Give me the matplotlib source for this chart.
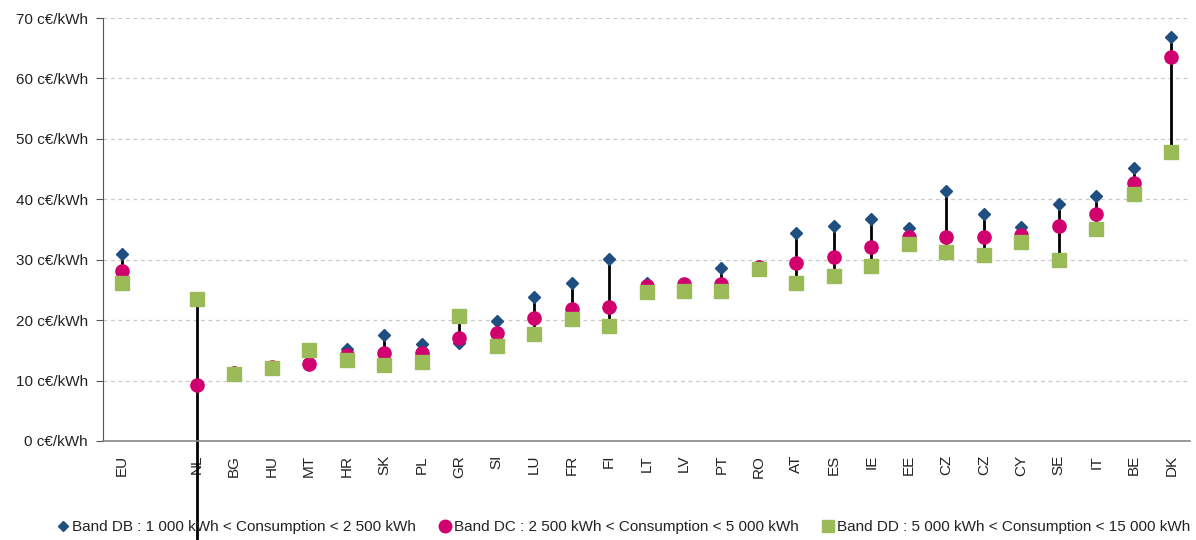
import numpy as np
import matplotlib
matplotlib.use('Agg')
import matplotlib.pyplot as plt
from matplotlib.lines import Line2D

plt.rcParams['font.family'] = ['Liberation Sans', 'DejaVu Sans']

countries = ['EU', '', 'NL', 'BG', 'HU', 'MT', 'HR', 'SK', 'PL', 'GR', 'SI', 'LU', 'FR', 'FI',
             'LT', 'LV', 'PT', 'RO', 'AT', 'ES', 'IE', 'EE', 'CZ', 'CZ', 'CY', 'SE', 'IT', 'BE', 'DK']

# c€/kWh, nan for the empty slot
band_db = [31.0, np.nan, -18.0, 11.4, 12.3, 13.3, 15.3, 17.5, 16.1, 16.3, 19.9, 23.8, 26.2, 30.1,
           26.1, 25.9, 28.7, 28.9, 34.4, 35.5, 36.8, 35.3, 41.4, 37.6, 35.4, 39.2, 40.6, 45.1, 66.8]
band_dc = [28.1, np.nan, 9.3, 11.2, 12.3, 12.8, 14.2, 14.5, 14.6, 17.1, 17.9, 20.3, 21.9, 22.2,
           25.7, 25.9, 25.9, 28.8, 29.5, 30.5, 32.1, 33.7, 33.7, 33.8, 34.1, 35.5, 37.6, 42.7, 63.5]
band_dd = [26.2, np.nan, 23.5, 11.1, 12.0, 15.1, 13.4, 12.6, 13.1, 20.7, 15.8, 17.7, 20.2, 19.0,
           24.6, 24.9, 24.9, 28.5, 26.2, 27.3, 29.0, 32.6, 31.3, 30.8, 32.9, 29.9, 35.1, 40.9, 47.9]

labels = ['Band DB : 1 000 kWh < Consumption < 2 500 kWh',
          'Band DC : 2 500 kWh < Consumption < 5 000 kWh',
          'Band DD : 5 000 kWh < Consumption < 15 000 kWh']

c_db = '#1f4e80'
c_dc = '#d0006f'
c_dd = '#9bbb59'

x = np.arange(len(countries))
db = np.array(band_db)
dc = np.array(band_dc)
dd = np.array(band_dd)
lo = np.nanmin(np.vstack([db, dc, dd]), axis=0)
hi = np.nanmax(np.vstack([db, dc, dd]), axis=0)

fig = plt.figure(figsize=(11.96, 5.4), dpi=100)
ax = fig.add_axes([103 / 1196, 99 / 540, 1087 / 1196, 423 / 540])

ax.vlines(x, lo, hi, color='black', lw=2, clip_on=False, zorder=2)
ax.plot(x, db, 'D', color=c_db, ms=6.5, ls='none', zorder=3)
ax.plot(x, dc, 'o', color=c_dc, ms=9.5, ls='none', zorder=4)
ax.plot(x, dd, 's', color=c_dd, ms=10, ls='none', zorder=5)

ax.set_xlim(-0.5, len(countries) - 0.5)
ax.set_ylim(0, 70)
ax.set_yticks(np.arange(0, 71, 10))
ax.set_yticklabels([f'{v} c€/kWh' for v in range(0, 71, 10)], fontsize=11, color='#222222')
ax.set_xticks(x)
ax.set_xticklabels(countries, rotation=90, fontsize=11, color='#222222')
ax.tick_params(axis='x', length=0, pad=10)
ax.tick_params(axis='y', length=5, color='#555555', pad=6)
ax.grid(axis='y', ls=(0, (3, 3)), color='#c8c8c8', lw=0.9)
ax.set_axisbelow(True)
for s in ['top', 'right']:
    ax.spines[s].set_visible(False)
ax.spines['left'].set_color('#555555')
ax.spines['bottom'].set_color('#888888')
ax.spines['bottom'].set_linewidth(1.2)

handles = [Line2D([], [], marker='D', color=c_db, ls='none', ms=5.5),
           Line2D([], [], marker='o', color=c_dc, ms=9, ls='none'),
           Line2D([], [], marker='s', color=c_dd, ms=9, ls='none')]
fig.legend(handles, labels, loc='center', bbox_to_anchor=(0.522, 13 / 540), ncol=3,
           frameon=False, fontsize=11, handlelength=0.6, handletextpad=0.3,
           columnspacing=1.6, labelcolor='#222222')

fig.savefig('out.png', dpi=100)
